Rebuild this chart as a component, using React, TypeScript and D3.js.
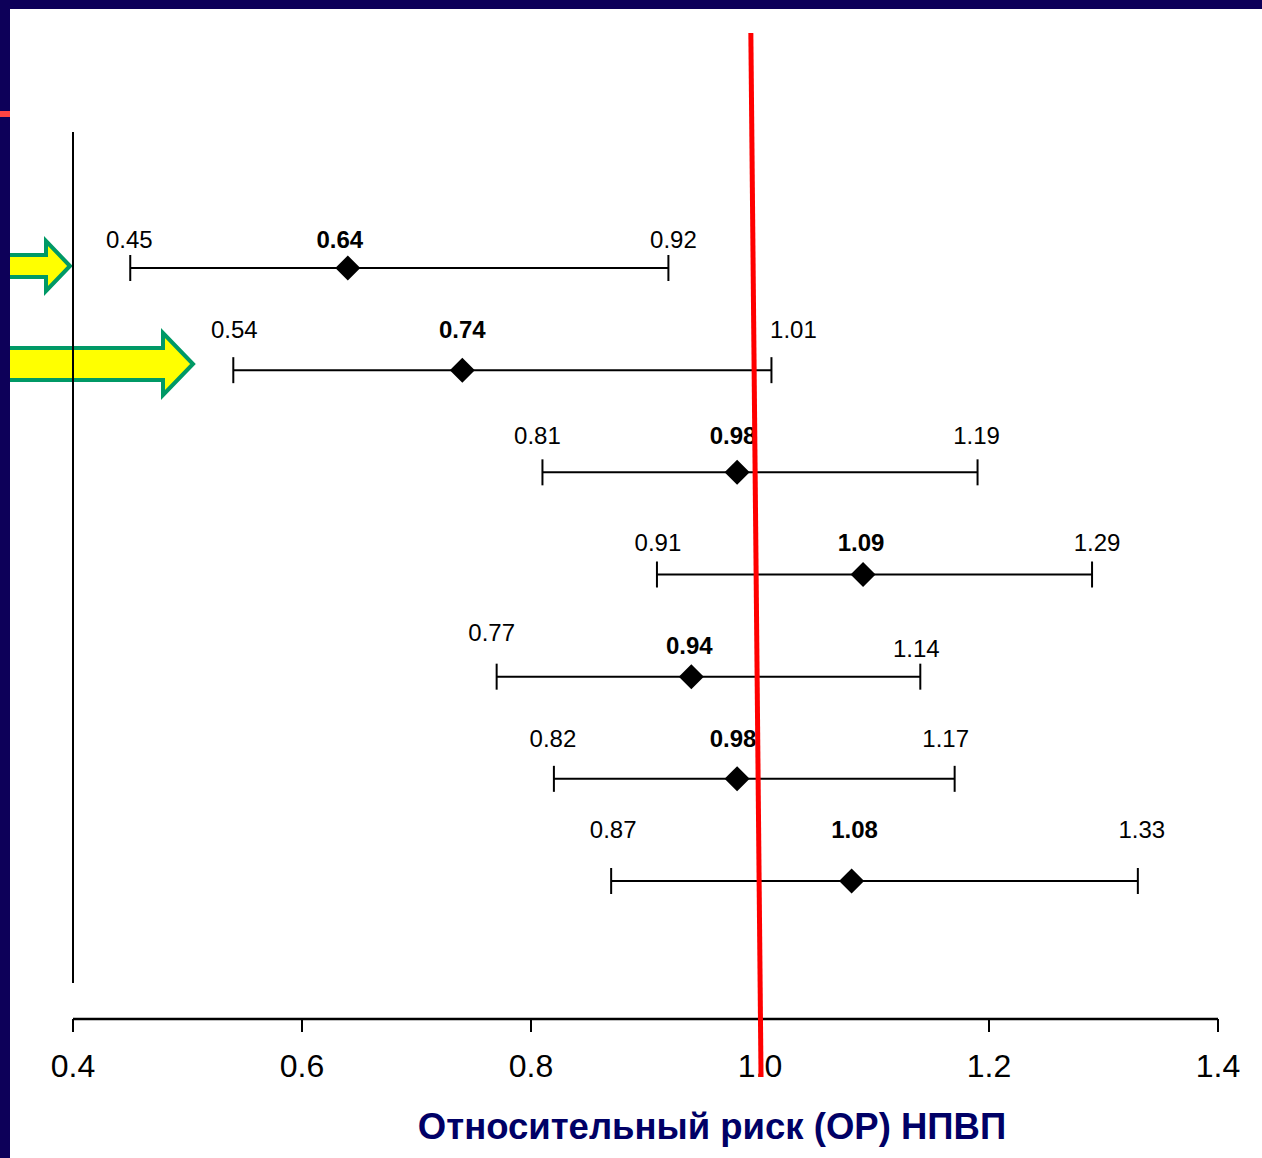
import React from 'react';
import * as d3 from 'd3';

// data: relative risk with 95% CI, one row per study
const lower = [0.45, 0.54, 0.81, 0.91, 0.77, 0.82, 0.87];
const estimate = [0.64, 0.74, 0.98, 1.09, 0.94, 0.98, 1.08];
const upper = [0.92, 1.01, 1.19, 1.29, 1.14, 1.17, 1.33];
const xTicks = [0.4, 0.6, 0.8, 1.0, 1.2, 1.4];
const refLine = [0.992, 1.0009]; // top / bottom of the (slightly slanted) red line
const axisTitle = 'Относительный риск (ОР) НПВП';

// label placement tweaks (pixels), [low, point, high]
const labelDx = [
  [-1, -8, 5], [1, 0, 22], [-5, -4, -1], [1, -2, 5], [-5, -2, -4], [-1, -4, -9], [2, 3, 4],
];
const labelDy = [
  [-20, -20, -20], [-32, -32, -32], [-28, -28, -28], [-24, -24, -24], [-36, -23, -20], [-32, -32, -32], [-43, -43, -43],
];

const W = 1262;
const H = 1158;
const FONT = '"Liberation Sans", Arial, sans-serif';
const NAVY = '#0d0059';

const App = () => {
  const x = d3.scaleLinear().domain([0.4, 1.4]).range([73, 1218]);
  const rows = d3.range(estimate.length);
  const y = d3.scalePoint<number>().domain(rows).range([268, 881]);
  const diamond = d3.symbol().type(d3.symbolSquare).size(313)();
  const fmt = d3.format('.2f');
  const axisY = 1019;

  // arrow shape: shaft from x0 to head base, head to tip
  const arrow = (x0: number, xb: number, tip: number, cy: number, sh: number, hh: number) =>
    `M${x0},${cy - sh}L${xb},${cy - sh}L${xb},${cy - hh}L${tip},${cy}L${xb},${cy + hh}L${xb},${cy + sh}L${x0},${cy + sh}Z`;

  return (
    <svg width={W} height={H} style={{ position: 'absolute', left: 0, top: 0, background: '#fff' }} fontFamily={FONT}>
      <rect width={W} height={H} fill="#fff" />

      {/* arrows pointing at first two rows */}
      <path d={arrow(-10, 46, 70, 266, 11, 25)} fill="#ffff00" stroke="#009966" strokeWidth={4} />
      <path d={arrow(-10, 163, 193, 364, 16, 31)} fill="#ffff00" stroke="#009966" strokeWidth={4} />

      {/* left vertical line */}
      <line x1={73} x2={73} y1={132} y2={983} stroke="#000" strokeWidth={2} />

      {rows.map(i => {
        const cy = y(i) as number;
        const vals = [lower[i], estimate[i], upper[i]];
        return (
          <g key={i}>
            <line x1={x(lower[i])} x2={x(upper[i])} y1={cy} y2={cy} stroke="#000" strokeWidth={2} />
            <line x1={x(lower[i])} x2={x(lower[i])} y1={cy - 13} y2={cy + 13} stroke="#000" strokeWidth={2} />
            <line x1={x(upper[i])} x2={x(upper[i])} y1={cy - 13} y2={cy + 13} stroke="#000" strokeWidth={2} />
            <path d={diamond} transform={`translate(${x(estimate[i])},${cy}) rotate(45)`} fill="#000" />
            {vals.map((v, k) => (
              <text
                key={k}
                x={x(v) + labelDx[i][k]}
                y={cy + labelDy[i][k]}
                textAnchor="middle"
                fontSize={24}
                fontWeight={k === 1 ? 'bold' : 'normal'}
                fill="#000"
              >
                {fmt(v)}
              </text>
            ))}
          </g>
        );
      })}

      {/* x axis */}
      <line x1={x(0.4)} x2={x(1.4)} y1={axisY} y2={axisY} stroke="#000" strokeWidth={2.5} />
      {xTicks.map(t => (
        <g key={t}>
          <line x1={x(t)} x2={x(t)} y1={axisY} y2={axisY + 13} stroke="#000" strokeWidth={2} />
          <text x={x(t)} y={1077} textAnchor="middle" fontSize={32} fill="#000">
            {d3.format('.1f')(t)}
          </text>
        </g>
      ))}
      <text x={712} y={1139} textAnchor="middle" fontSize={36.5} fontWeight="bold" fill="#000066">
        {axisTitle}
      </text>

      {/* red reference line at RR = 1 */}
      <line x1={x(refLine[0])} x2={x(refLine[1])} y1={33} y2={1077} stroke="#ff0000" strokeWidth={5} />

      {/* slide frame */}
      <rect x={0} y={0} width={W} height={9} fill={NAVY} />
      <rect x={0} y={0} width={10} height={H} fill={NAVY} />
      <rect x={0} y={111} width={10} height={6} fill="#ff4444" />
    </svg>
  );
};

export default App;
